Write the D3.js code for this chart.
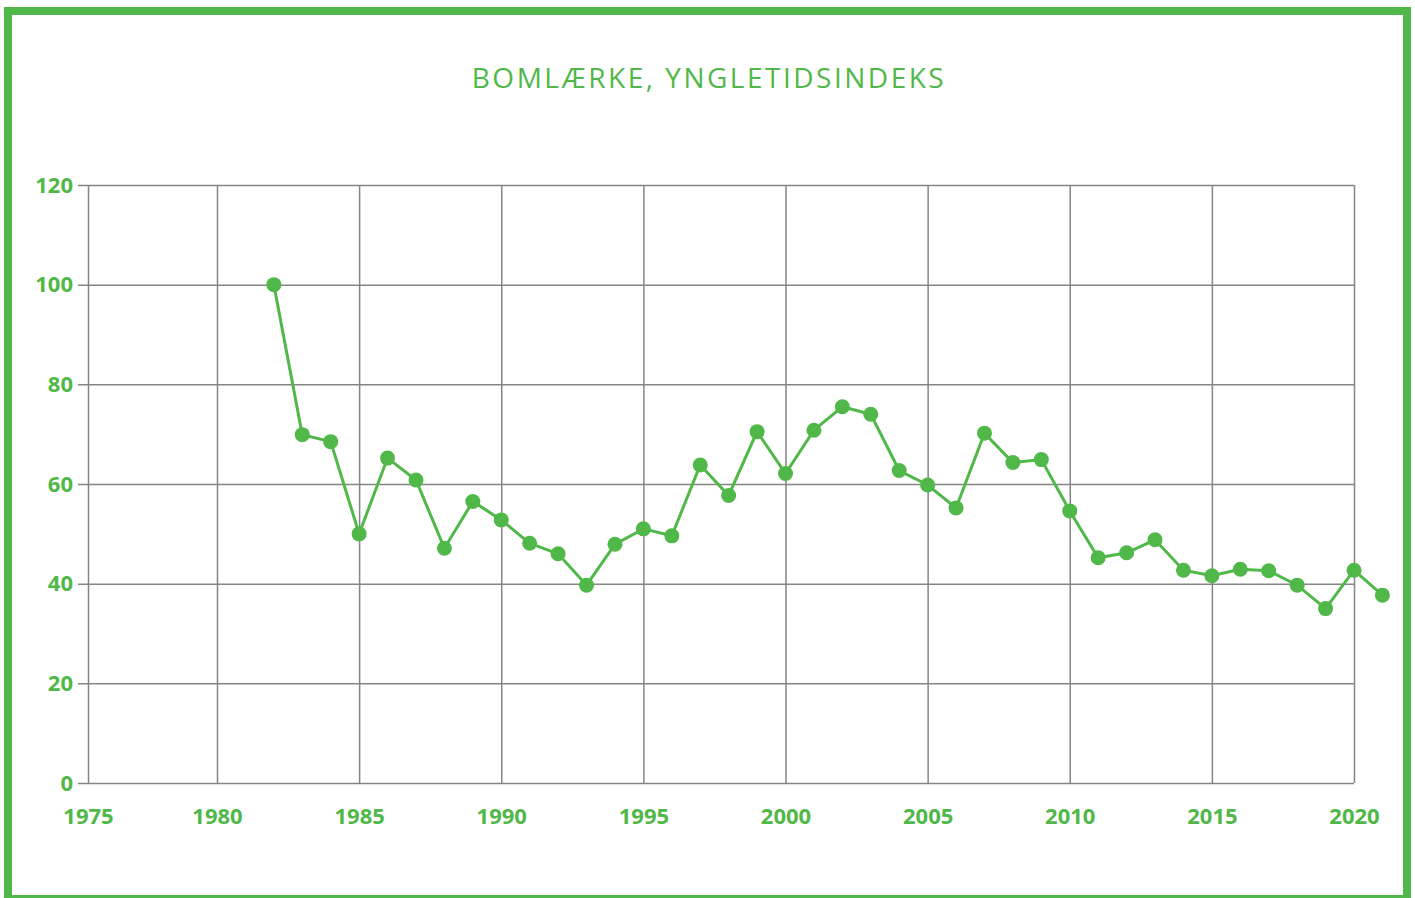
<!DOCTYPE html>
<html>
<head>
<meta charset="utf-8">
<script src="https://d3js.org/d3.v7.min.js"></script>
<style>
  body { margin: 0; background: #fff; }
  .grid line { stroke: #858585; stroke-width: 1.5px; }
  .axis text { font-family: "Open Sans", sans-serif; font-weight: 700; font-size: 22px; fill: #50b848; }
  .title { font-family: "Open Sans", sans-serif; font-size: 28px; fill: #50b848; }
  .line { fill: none; stroke: #50b848; stroke-width: 3px; }
  .dot { fill: #50b848; }
</style>
</head>
<body>
<script>
// Bomlærke, yngletidsindeks
var years = [1982, 1983, 1984, 1985, 1986, 1987, 1988, 1989, 1990, 1991,
             1992, 1993, 1994, 1995, 1996, 1997, 1998, 1999, 2000, 2001,
             2002, 2003, 2004, 2005, 2006, 2007, 2008, 2009, 2010, 2011,
             2012, 2013, 2014, 2015, 2016, 2017, 2018, 2019, 2020, 2021];
var index = [100, 69.9, 68.5, 50.0, 65.2, 60.8, 47.1, 56.5, 52.8, 48.1,
             46.0, 39.7, 47.9, 51.0, 49.6, 63.8, 57.7, 70.5, 62.1, 70.8,
             75.5, 74.0, 62.7, 59.8, 55.2, 70.2, 64.3, 64.9, 54.6, 45.2,
             46.2, 48.8, 42.7, 41.6, 42.9, 42.6, 39.7, 35.0, 42.7, 37.7];
var xTicks = [1975, 1980, 1985, 1990, 1995, 2000, 2005, 2010, 2015, 2020];
var yTicks = [0, 20, 40, 60, 80, 100, 120];
var title = "BOMLÆRKE, YNGLETIDSINDEKS";

var W = 1415, H = 898;
var svg = d3.select("body").append("svg")
    .attr("width", W).attr("height", H);

// green frame
svg.append("rect")
    .attr("x", 8).attr("y", 11)
    .attr("width", 1399).attr("height", 888)
    .attr("fill", "none")
    .attr("stroke", "#50b848")
    .attr("stroke-width", 8);

svg.append("text")
    .attr("class", "title")
    .attr("x", 709).attr("y", 88)
    .attr("text-anchor", "middle")
    .attr("letter-spacing", "2.5px")
    .text(title);

// the first interval (1975-1980) is narrower in the original
var x = d3.scaleLinear().domain([1975, 1980, 2020]).range([88, 217, 1354]);
var y = d3.scaleLinear().domain([0, 120]).range([783, 185]);

var data = years.map(function(d, i) { return {year: d, value: index[i]}; });

// horizontal grid + y labels
var yAxis = svg.append("g")
    .attr("class", "axis grid")
    .attr("transform", "translate(88,0)")
    .call(d3.axisLeft(y).tickValues(yTicks).tickSize(10).tickPadding(6)
      .tickFormat(d3.format("d")));
yAxis.select(".domain").remove();
yAxis.selectAll(".tick line").attr("x2", x(2020) - 88).attr("x1", -10);
yAxis.selectAll(".tick text").attr("x", -15);

// vertical grid + x labels
var xAxis = svg.append("g")
    .attr("class", "axis grid")
    .attr("transform", "translate(0,783)")
    .call(d3.axisBottom(x).tickValues(xTicks).tickSize(0).tickPadding(25)
      .tickFormat(d3.format("d")));
xAxis.select(".domain").remove();
xAxis.selectAll(".tick line").attr("y1", 0).attr("y2", y(120) - 783);

var valueline = d3.line()
    .x(function(d) { return x(d.year); })
    .y(function(d) { return y(d.value); });

svg.append("path")
    .attr("class", "line")
    .attr("d", valueline(data));

svg.selectAll("circle.dot")
    .data(data)
    .enter().append("circle")
    .attr("class", "dot")
    .attr("r", 7.5)
    .attr("cx", function(d) { return x(d.year); })
    .attr("cy", function(d) { return y(d.value); });
</script>
</body>
</html>
